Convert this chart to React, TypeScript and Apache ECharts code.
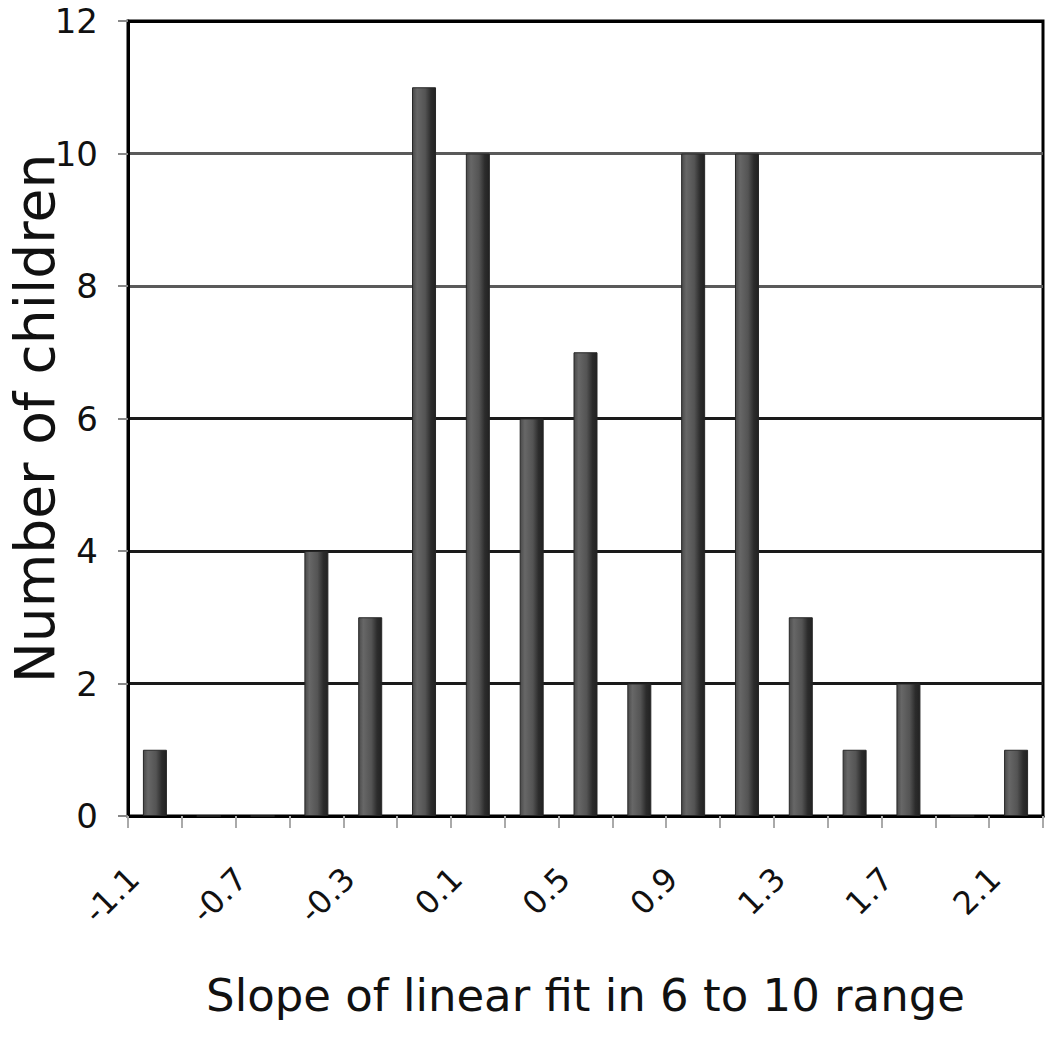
import React, { useEffect, useRef } from "react";
import * as echarts from "echarts";

const categories = ["-1.1", "-0.9", "-0.7", "-0.5", "-0.3", "-0.1", "0.1", "0.3", "0.5", "0.7", "0.9", "1.1", "1.3", "1.5", "1.7", "1.9", "2.1"];
const counts = [1, 0, 0, 4, 3, 11, 10, 6, 7, 2, 10, 10, 3, 1, 2, 0, 1];
const xTitle = "Slope of linear fit in 6 to 10 range";
const yTitle = "Number of children";

const FONT = "DejaVu Sans";

export default function App() {
  const ref = useRef<HTMLDivElement>(null);
  useEffect(() => {
    if (!ref.current) return;
    const chart = echarts.init(ref.current, null, { renderer: "svg" });
    const barColor = new echarts.graphic.LinearGradient(0, 0, 1, 0, [
      { offset: 0, color: "#4a4a4a" },
      { offset: 0.2, color: "#676767" },
      { offset: 0.55, color: "#545454" },
      { offset: 0.8, color: "#2c2c2c" },
      { offset: 1, color: "#222222" },
    ]);
    chart.setOption({
      animation: false,
      backgroundColor: "#ffffff",
      grid: {
        left: 128,
        right: 7,
        top: 21,
        bottom: 223,
        containLabel: false,
        outerBoundsMode: "none",
        show: true,
        borderColor: "#000",
        borderWidth: 3,
        backgroundColor: "transparent",
      },
      xAxis: {
        type: "category",
        data: categories,
        name: xTitle,
        nameLocation: "middle",
        nameGap: 157,
        nameTextStyle: { fontFamily: FONT, fontSize: 45, color: "#111" },
        axisLine: { lineStyle: { color: "#000", width: 3 } },
        axisTick: { show: true, interval: 0, length: 12, lineStyle: { color: "#aaa", width: 2 } },
        axisLabel: {
          interval: 1,
          rotate: 45,
          margin: 36,
          padding: [0, 30, 0, 0],
          fontFamily: FONT,
          fontSize: 32,
          color: "#111",
        },
        splitLine: { show: false },
      },
      yAxis: {
        type: "value",
        min: 0,
        max: 12,
        interval: 2,
        name: yTitle,
        nameLocation: "middle",
        nameGap: 66,
        nameRotate: 90,
        nameMoveOverlap: false,
        nameTextStyle: { fontFamily: FONT, fontSize: 55, color: "#111" },
        axisLine: { show: true, lineStyle: { color: "#000", width: 3 } },
        axisTick: { show: true, length: 10, lineStyle: { color: "#888", width: 2 } },
        axisLabel: { margin: 30, fontFamily: FONT, fontSize: 34, color: "#111" },
        splitLine: {
          show: true,
          lineStyle: {
            color: ["#000", "#1a1a1a", "#1a1a1a", "#1a1a1a", "#5a5a5a", "#5a5a5a", "#000"],
            width: 3,
          },
        },
      },
      series: [
        {
          type: "bar",
          data: counts,
          barWidth: 24,
          itemStyle: { color: barColor, borderColor: "#262626", borderWidth: 1 },
        },
      ],
    });
    return () => chart.dispose();
  }, []);
  return (
    <div
      ref={ref}
      style={{ position: "fixed", left: 0, top: 0, width: 1050, height: 1039 }}
    />
  );
}
